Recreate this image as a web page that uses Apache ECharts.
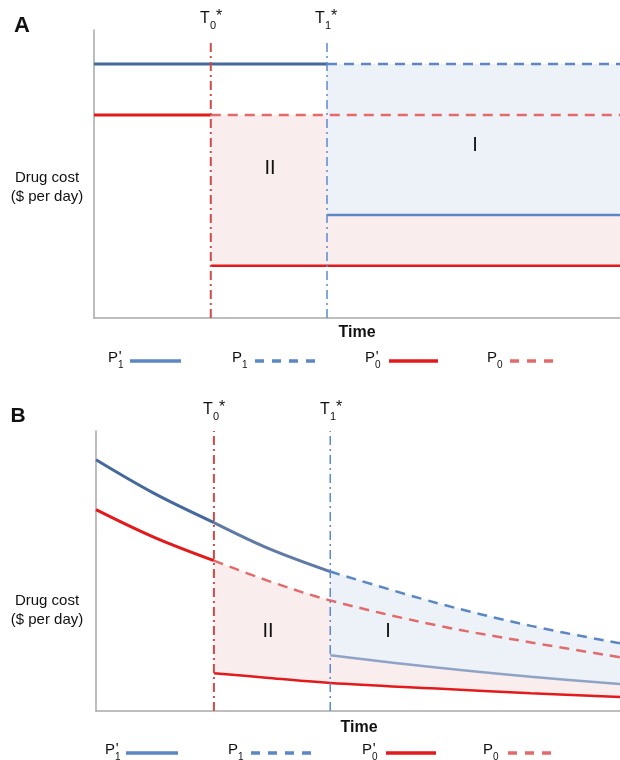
<!DOCTYPE html>
<html>
<head>
<meta charset="utf-8">
<script src="https://cdn.jsdelivr.net/npm/echarts@6/dist/echarts.min.js"></script>
<style>
  html, body { margin: 0; padding: 0; background: #fff; }
  #chart { width: 620px; height: 760px; }
</style>
</head>
<body>
<div id="chart"></div>
<script>
// ---- data (time in % of axis, cost in % of axis) ----
// panel A: constant prices
const tA = [0, 22.2, 44.3, 100];
const p1A = [88.2, 88.2, 88.2, 88.2];
const p0A = [70.5, 70.5, 70.5, 70.5];
const p1pA = [null, null, 35.8, 35.8];
const p0pA = [null, 18.1, 18.1, 18.1];

// panel B: declining prices
const tB = [0, 11, 22.5, 33, 44.7, 65, 83, 100];
const p1B = [89.7, 77.8, 67.3, 58.0, 49.8, 38.6, 30.4, 24.2];
const p0B = [71.9, 62.1, 53.7, 46.4, 39.5, 30.6, 24.5, 19.2];
const p1pB = [null, null, null, null, 19.9, 15.5, 12.2, 9.6];
const p0pB = [null, null, 13.5, 11.8, 10.0, 8.0, 6.3, 5.0];

// T0*, T1* marks
const marksA = [22.2, 44.3];
const marksB = [22.5, 44.7];
const markTopA = 96.5;
const markTopB = 100;

const FONT = '"Liberation Sans", Arial, sans-serif';
const BLUE_DARK = '#46699d';
const BLUE = '#5b87c5';
const BLUE_GREY = '#8fa3c6';
const RED = '#e31a1c';
const RED_LIGHT = '#e36a6a';
const PINK_FILL = '#f9eded';
const BLUE_FILL = '#edf2f8';

// helpers
function zip(xs, ys, from, to) {
  const out = [];
  for (let i = 0; i < xs.length; i++) {
    if (ys[i] == null) continue;
    if (from != null && xs[i] < from - 1e-9) continue;
    if (to != null && xs[i] > to + 1e-9) continue;
    out.push([xs[i], ys[i]]);
  }
  return out;
}

function band(upper, lower, color, gi) {
  return {
    type: 'custom',
    xAxisIndex: gi, yAxisIndex: gi,
    silent: true,
    z: 1,
    data: [[0, 0]],
    renderItem: function (params, api) {
      const pts = upper.map(p => api.coord(p))
        .concat(lower.slice().reverse().map(p => api.coord(p)));
      return { type: 'polygon', shape: { points: pts }, style: { fill: color } };
    }
  };
}

function line(name, data, color, width, type, gi, smooth) {
  return {
    name: name,
    type: 'line',
    xAxisIndex: gi, yAxisIndex: gi,
    data: data,
    symbol: 'none',
    smooth: smooth ? 0.35 : false,
    silent: true,
    z: 3,
    lineStyle: { color: color, width: width, type: type || 'solid', cap: 'butt' }
  };
}

function markLine(x, top, color, width, gi) {
  return line('', [[x, 0], [x, top]], color, width, [9, 4, 2, 4], gi, false);
}

function txt(x, y, text, size, weight, align) {
  return {
    type: 'text', silent: true, z: 10,
    style: {
      x: x, y: y, text: text, fill: '#111',
      font: (weight || 'normal') + ' ' + size + 'px ' + FONT,
      align: align || 'center', verticalAlign: 'middle'
    }
  };
}

// main letter + subscript + tail (e.g. T0*, P1')
function subLabel(x, y, main, sub, tail, size) {
  const out = [txt(x, y, main, size, 'normal', 'left')];
  const w = main === 'T' ? size * 0.62 : size * 0.67;
  out.push(txt(x + w, y + size * 0.45, sub, Math.round(size * 0.68), 'normal', 'left'));
  if (tail === '*') out.push(txt(x + w + size * 0.38, y - size * 0.15, '*', size, 'normal', 'left'));
  else out.push(txt(x + w + size * 0.05, y - size * 0.05, tail, size, 'normal', 'left'));
  return out;
}

function legendRow(y, items) {
  let g = [];
  items.forEach(it => {
    g = g.concat(subLabel(it.tx, y, 'P', it.sub, it.prime ? "'" : '', 15));
    g.push({
      type: 'line', silent: true, z: 10,
      shape: { x1: it.x1, y1: y + 3, x2: it.x2, y2: y + 3 },
      style: { stroke: it.color, lineWidth: 3.5, lineDash: it.dash ? [9, 8] : null }
    });
  });
  return g;
}

const axisStyle = { show: true, lineStyle: { color: '#a9a9a9', width: 1.5 } };
function xAx(gi) {
  return { type: 'value', gridIndex: gi, min: 0, max: 100, axisLine: axisStyle,
    axisTick: { show: false }, axisLabel: { show: false }, splitLine: { show: false } };
}
function yAx(gi) {
  return { type: 'value', gridIndex: gi, min: 0, max: 100, axisLine: axisStyle,
    axisTick: { show: false }, axisLabel: { show: false }, splitLine: { show: false } };
}

const chart = echarts.init(document.getElementById('chart'), null, { renderer: 'canvas' });

const graphics = []
  // panel A texts
  .concat([txt(22, 26, 'A', 22, 'bold'), txt(47, 178, 'Drug cost', 15), txt(47, 197, '($ per day)', 15),
    txt(270, 168, 'II', 20), txt(475, 145, 'I', 20), txt(357, 333, 'Time', 16, 'bold')])
  .concat(subLabel(200, 19, 'T', '0', '*', 16))
  .concat(subLabel(315, 19, 'T', '1', '*', 16))
  .concat(legendRow(358, [
    { tx: 108, sub: '1', prime: true, x1: 130, x2: 181, color: BLUE },
    { tx: 232, sub: '1', prime: false, x1: 255, x2: 316, color: BLUE, dash: true },
    { tx: 365, sub: '0', prime: true, x1: 389, x2: 438, color: RED },
    { tx: 487, sub: '0', prime: false, x1: 510, x2: 560, color: RED_LIGHT, dash: true }
  ]))
  // panel B texts
  .concat([txt(18, 416, 'B', 21, 'bold'), txt(47, 601, 'Drug cost', 15), txt(47, 620, '($ per day)', 15),
    txt(268, 631, 'II', 20), txt(388, 631, 'I', 20), txt(359, 728, 'Time', 16, 'bold')])
  .concat(subLabel(203, 410, 'T', '0', '*', 16))
  .concat(subLabel(320, 410, 'T', '1', '*', 16))
  .concat(legendRow(750, [
    { tx: 105, sub: '1', prime: true, x1: 126, x2: 178, color: BLUE },
    { tx: 228, sub: '1', prime: false, x1: 251, x2: 312, color: BLUE, dash: true },
    { tx: 362, sub: '0', prime: true, x1: 386, x2: 436, color: RED },
    { tx: 483, sub: '0', prime: false, x1: 508, x2: 558, color: RED_LIGHT, dash: true }
  ]));

const option = {
  animation: false,
  backgroundColor: '#fff',
  grid: [
    { left: 94, top: 30, width: 526, height: 288 },
    { left: 96, top: 431, width: 524, height: 280 }
  ],
  xAxis: [xAx(0), xAx(1)],
  yAxis: [yAx(0), yAx(1)],
  graphic: graphics,
  series: [
    // panel A fills
    band(zip(tA, p0A, marksA[0]), zip(tA, p0pA), PINK_FILL, 0),
    band(zip(tA, p1A, marksA[1]), zip(tA, p1pA), BLUE_FILL, 0),
    // panel A lines
    line('P1', zip(tA, p1A, null, marksA[1]), BLUE_DARK, 3, 'solid', 0),
    line('P1 dashed', zip(tA, p1A, marksA[1]), BLUE, 2.5, [10, 7], 0),
    line('P0', zip(tA, p0A, null, marksA[0]), RED, 3, 'solid', 0),
    line('P0 dashed', zip(tA, p0A, marksA[0]), RED_LIGHT, 2.5, [10, 7], 0),
    line("P1'", zip(tA, p1pA), BLUE, 2.5, 'solid', 0),
    line("P0'", zip(tA, p0pA), RED, 2.5, 'solid', 0),
    markLine(marksA[0], markTopA, '#d04a4a', 2, 0),
    markLine(marksA[1], markTopA, '#5b8bd0', 1.5, 0),

    // panel B fills
    band(zip(tB, p0B, marksB[0]), zip(tB, p0pB), PINK_FILL, 1),
    band(zip(tB, p1B, marksB[1]), zip(tB, p1pB), BLUE_FILL, 1),
    // panel B lines
    line('P1', zip(tB, p1B, null, marksB[0]), BLUE_DARK, 3, 'solid', 1, true),
    line('P1 mid', zip(tB, p1B, marksB[0], marksB[1]), '#5f7aa6', 3, 'solid', 1, true),
    line('P1 dashed', zip(tB, p1B, marksB[1]), BLUE, 2.5, [10, 7], 1, true),
    line('P0', zip(tB, p0B, null, marksB[0]), RED, 3, 'solid', 1, true),
    line('P0 dashed', zip(tB, p0B, marksB[0]), RED_LIGHT, 2.5, [10, 7], 1, true),
    line("P1'", zip(tB, p1pB), BLUE_GREY, 2.5, 'solid', 1, true),
    line("P0'", zip(tB, p0pB), RED, 2.5, 'solid', 1, true),
    markLine(marksB[0], markTopB, '#d04a4a', 2, 1),
    markLine(marksB[1], markTopB, '#5b8bd0', 1.5, 1)
  ]
};

chart.setOption(option);
</script>
</body>
</html>
